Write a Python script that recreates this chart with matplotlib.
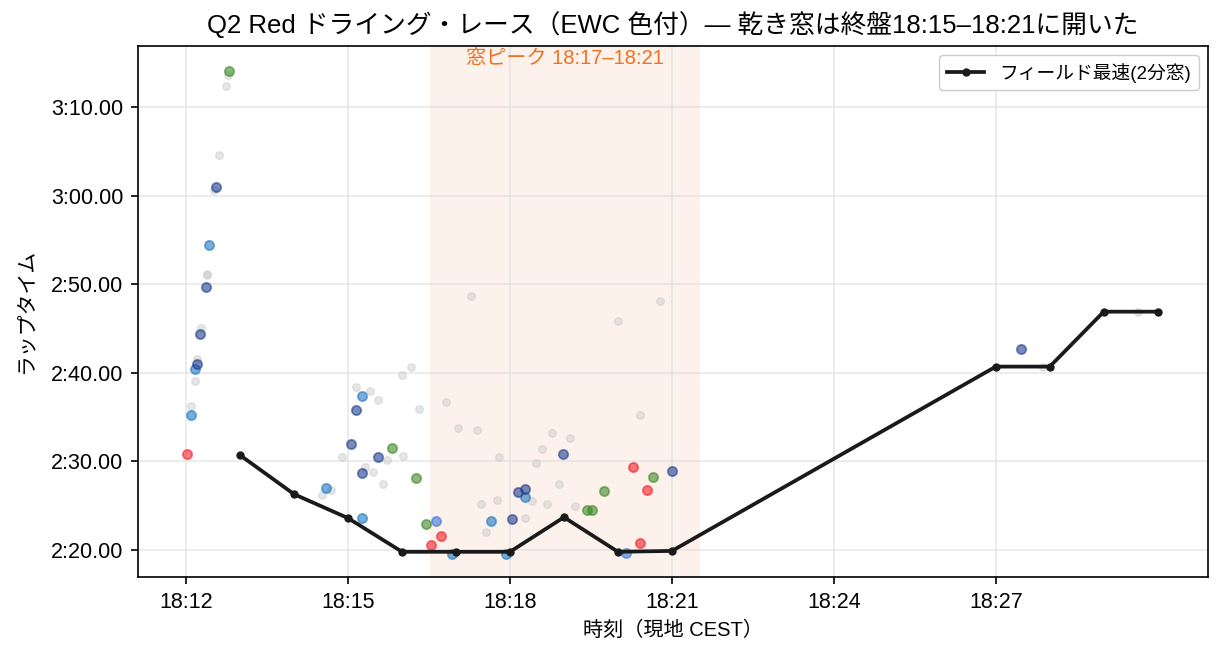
import matplotlib
matplotlib.use("Agg")
import matplotlib.pyplot as plt

plt.rcParams['font.family'] = ['Liberation Sans', 'Noto Sans CJK JP', 'DejaVu Sans']

# time in minutes after 18:00, lap time in seconds
gray_x = [12.77, 12.74, 12.60, 12.52, 12.39, 12.39, 12.27, 12.21, 12.16, 12.09,
          17.27, 16.17, 16.00, 15.15, 15.40, 15.56, 16.82, 16.32, 17.04, 17.38,
          14.89, 15.73, 16.01, 17.80, 15.32, 15.47, 15.64, 14.69, 14.52, 17.47,
          17.75, 17.56, 20.78, 20.00, 20.41, 18.78, 19.12, 18.60, 18.49, 18.90,
          18.40, 18.69, 19.21, 18.28, 29.64, 27.88]
gray_y = [193.6, 192.4, 184.6, 180.6, 171.2, 171.0, 165.1, 161.6, 159.1, 156.3,
          168.7, 160.7, 159.7, 158.4, 158.0, 156.9, 156.7, 155.9, 153.8, 153.6,
          150.5, 150.2, 150.6, 150.5, 149.4, 148.8, 147.4, 146.8, 146.2, 145.2,
          145.6, 142.0, 168.1, 165.9, 155.2, 153.2, 152.6, 151.4, 149.8, 147.4,
          145.5, 145.2, 145.0, 143.6, 166.9, 160.6]

red_x = [12.02, 16.54, 16.73, 20.28, 20.54, 20.41]
red_y = [150.8, 140.6, 141.6, 149.4, 146.8, 140.8]
blue_x = [12.09, 12.17, 12.43, 14.60, 15.25, 15.25, 17.64, 16.93, 17.93, 18.28]
blue_y = [155.2, 160.4, 174.4, 147.0, 157.4, 143.6, 143.3, 139.6, 139.6, 146.0]
navy_x = [12.21, 12.25, 12.36, 12.56, 15.15, 15.06, 15.56, 15.25, 18.14, 18.28,
          18.04, 18.99, 21.00, 27.46]
navy_y = [161.0, 164.4, 169.7, 181.0, 155.8, 152.0, 150.5, 148.7, 146.5, 146.9,
          143.5, 150.8, 148.9, 162.7]
green_x = [12.80, 15.82, 16.25, 16.45, 19.43, 19.51, 19.75, 20.64]
green_y = [194.1, 151.5, 148.1, 142.9, 144.5, 144.5, 146.7, 148.2]
light_x = [16.62, 20.14]
light_y = [143.3, 139.7]

best_x = [13, 14, 15, 16, 17, 18, 19, 20, 21, 27, 28, 29, 30]
best_y = [150.7, 146.3, 143.6, 139.8, 139.8, 139.8, 143.7, 139.8, 139.9,
          160.7, 160.7, 166.9, 166.9]

xtick_pos = [12, 15, 18, 21, 24, 27]
xtick_labels = ["18:12", "18:15", "18:18", "18:21", "18:24", "18:27"]
ytick_pos = [140, 150, 160, 170, 180, 190]
ytick_labels = ["2:20.00", "2:30.00", "2:40.00", "2:50.00", "3:00.00", "3:10.00"]

window = (16.52, 21.52)

fig = plt.figure(figsize=(12.22, 6.55), dpi=100)
ax = fig.add_axes([0.113, 0.119, 0.8755, 0.811])

ax.axvspan(window[0], window[1], color='#f08040', alpha=0.1, lw=0, zorder=0)
ax.grid(True, color='#dddddd', lw=1.1, alpha=0.7, zorder=0)
ax.set_axisbelow(True)

ax.scatter(gray_x, gray_y, s=30, color='#c8c8c8', alpha=0.45, edgecolors='#c8c8c8', linewidths=1, zorder=2)
for xs, ys, c in [(red_x, red_y, '#f0202c'), (blue_x, blue_y, '#1f78c0'),
                  (navy_x, navy_y, '#1f3f90'), (green_x, green_y, '#3c8a28'),
                  (light_x, light_y, '#3a74d8')]:
    ax.scatter(xs, ys, s=44, color=c, alpha=0.6, edgecolors=c, linewidths=1.3, zorder=3)

ax.plot(best_x, best_y, color='#1a1a1a', lw=2.7, marker='o', ms=5, zorder=4,
        label='フィールド最速(2分窓)')

ax.text((window[0] + window[1]) / 2, 196.5, '窓ピーク 18:17–18:21', color='#f07020',
        ha='center', va='top', fontsize=14.5, zorder=5)

for s in ax.spines.values():
    s.set_linewidth(1.2)

ax.set_xlim(11.11, 30.93)
ax.set_ylim(136.95, 196.9)
ax.set_xticks(xtick_pos)
ax.set_xticklabels(xtick_labels, fontsize=15.5)
ax.set_yticks(ytick_pos)
ax.set_yticklabels(ytick_labels, fontsize=15.5)
ax.tick_params(length=5.25, width=1.2, pad=5.25)
ax.set_xlabel('時刻（現地 CEST）', fontsize=14.5, labelpad=6)
ax.set_ylabel('ラップタイム', fontsize=15, labelpad=11)
ax.set_title('Q2 Red ドライング・レース（EWC 色付）— 乾き窓は終盤18:15–18:21に開いた', fontsize=18.5, pad=9)
ax.legend(loc='upper right', fontsize=13.5, framealpha=1)

fig.savefig('out.png', dpi=100)
